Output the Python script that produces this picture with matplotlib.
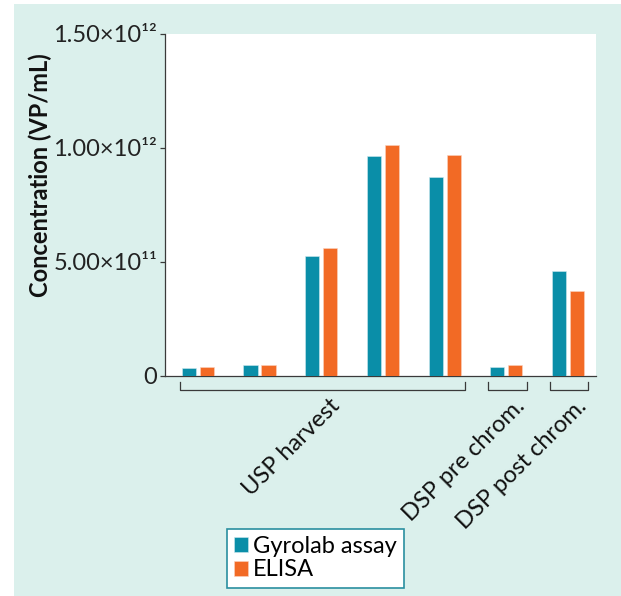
import matplotlib
matplotlib.use("Agg")
import matplotlib.pyplot as plt
from matplotlib.patches import Rectangle
import numpy as np

plt.rcParams['font.family'] = ['Lato', 'DejaVu Sans']

# ---- data ----
gyrolab = [3.4e10, 4.7e10, 5.26e11, 9.63e11, 8.72e11, 3.9e10, 4.59e11]
elisa = [4.0e10, 4.7e10, 5.62e11, 1.013e12, 9.71e11, 4.8e10, 3.72e11]
group_names = ["USP harvest", "DSP pre chrom.", "DSP post chrom."]
group_start = [0, 5, 6]
group_end = [4, 5, 6]
yticks = [0, 5e11, 1e12, 1.5e12]
ytick_labels = ["0", "5.00×10¹¹", "1.00×10¹²", "1.50×10¹²"]
series_names = ["Gyrolab assay", "ELISA"]

TEAL = "#0a8ea8"
ORANGE = "#f26a25"
MINT = "#dbf0ec"
DARK = "#3a3a3a"
FS = 17

fig = plt.figure(figsize=(6.21, 5.96), dpi=100)
fig.patch.set_facecolor("white")
fig.add_artist(Rectangle((14 / 621, 0), 1 - 14 / 621, 1 - 4 / 596,
                         transform=fig.transFigure, facecolor=MINT,
                         edgecolor="none", zorder=-10))

ax = fig.add_axes([165 / 621, 1 - 376 / 596, (596 - 165) / 621, (376 - 34) / 596])
ax.set_facecolor("white")

x = np.arange(len(gyrolab))
w = 0.228
off = 0.146
ax.bar(x - off, gyrolab, w, color=TEAL, edgecolor="#cfe9ee", linewidth=0.4, label=series_names[0], zorder=3)
ax.bar(x + off, elisa, w, color=ORANGE, edgecolor="#fbd3c0", linewidth=0.4, label=series_names[1], zorder=3)

ax.set_xlim(-0.532, 6.454)
ax.set_ylim(0, 1.5e12)
ax.set_yticks(yticks)
ax.set_yticklabels(ytick_labels, fontsize=FS, color="#222222")
ax.set_xticks([])
for s in ["top", "right"]:
    ax.spines[s].set_visible(False)
for s in ["left", "bottom"]:
    ax.spines[s].set_color(DARK)
    ax.spines[s].set_linewidth(0.9)
ax.tick_params(axis="y", direction="out", length=3.5, width=0.9, color=DARK, pad=2)

# group brackets and labels
trans = ax.get_xaxis_transform()
ah = (376 - 34)
y_top = -6 / ah
y_bot = -14 / ah
for name, s, e in zip(group_names, group_start, group_end):
    l = s - 0.29
    r = e + 0.33
    ax.plot([l, l, r, r], [y_top, y_bot, y_bot, y_top], color=DARK, lw=0.9,
            transform=trans, clip_on=False)
    cx = (l + r) / 2 + 0.1
    ax.text(cx, -19 / ah, name, transform=trans, rotation=45,
            rotation_mode="anchor", ha="right", va="top", fontsize=FS,
            color="#111111")

fig.text(40 / 621, 1 - 175 / 596, "Concentration (VP/mL)", rotation=90,
         ha="center", va="center", fontsize=FS, fontweight="bold", color="#111111")

leg = fig.legend(loc="upper left", bbox_to_anchor=(227 / 621, 1 - 529 / 596),
                 fontsize=FS, frameon=True, fancybox=False,
                 handlelength=0.6, handleheight=0.6, handletextpad=0.2,
                 labelspacing=0.1, borderpad=0.3, borderaxespad=0)
leg.get_frame().set_edgecolor("#2a8fa0")
leg.get_frame().set_linewidth(1.2)
leg.get_frame().set_facecolor("white")
leg.get_frame().set_alpha(1)

fig.savefig("out.png", dpi=100)
